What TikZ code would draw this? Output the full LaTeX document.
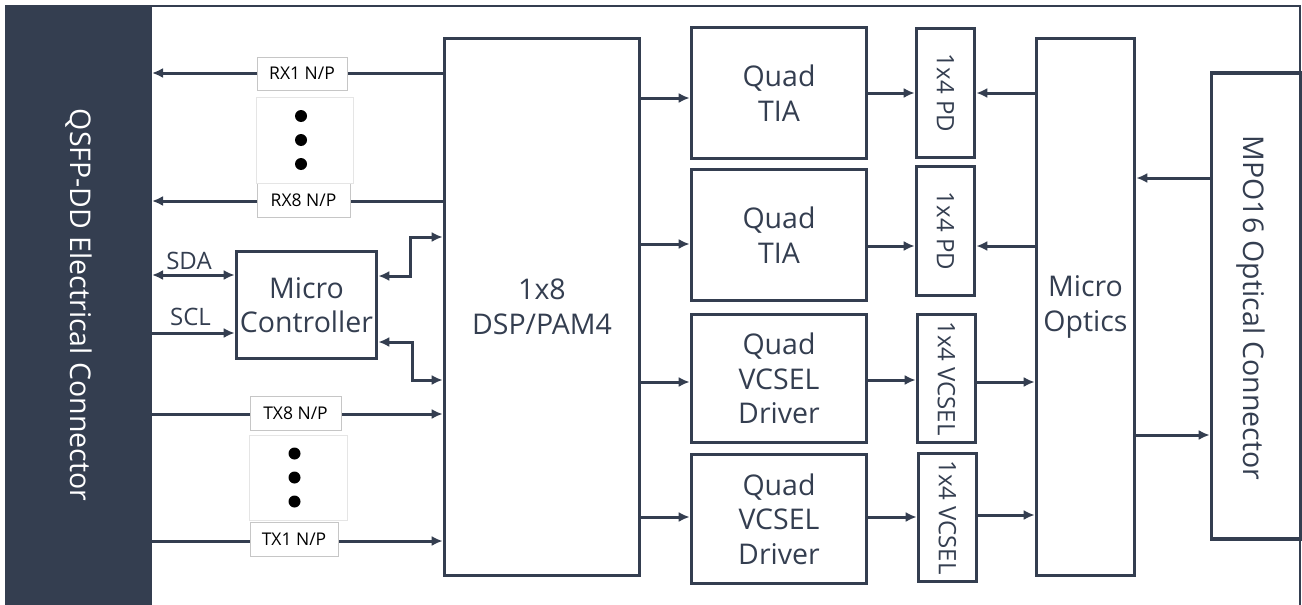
\documentclass[tikz,border=0pt]{standalone}
\usepackage{fontspec}
\setmainfont{Open Sans}
\usetikzlibrary{arrows.meta}
\definecolor{slate}{RGB}{52,62,80}
\begin{document}
\begin{tikzpicture}
[x=1pt,y=-1pt,
  boxLine/.style={draw=slate,line width=3.6pt,text=slate,align=center,inner sep=0pt,%
    font=\fontsize{28.5}{34.5}\selectfont},
  sideText/.style={rotate=-90,inner sep=0pt,font=\fontsize{28.5}{34.5}\selectfont},
  smallText/.style={rotate=-90,inner sep=0pt,text=slate,font=\fontsize{24}{28}\selectfont},
  arrowLine/.style={-{Latex[length=11pt,width=10pt]},line width=3pt,draw=slate},
  bothLine/.style={{Latex[length=11pt,width=10pt]}-{Latex[length=11pt,width=10pt]},line width=3pt,draw=slate},
  tagBox/.style={draw=gray!45,line width=0.8pt,fill=white,inner sep=0pt,font=\fontsize{17.5}{20}\selectfont},
  dotBox/.style={draw=gray!20,line width=0.8pt,fill=white,inner sep=0pt},
  busText/.style={text=slate,inner sep=0pt,font=\fontsize{24}{28}\selectfont}]
\useasboundingbox (0,0) rectangle (1302,605);
%% connector bar and frame
\node[fill=slate,inner sep=0pt,outer sep=0pt,minimum width=147pt,minimum height=600pt,anchor=north west] (qsfp) at (5,5) {};
\node[sideText,text=white] (qsfpText) at (qsfp.center) {QSFP-DD Electrical Connector};
\draw[slate,line width=2.5pt] (qsfp.north east |- 0,6) -- (1300,6) -- (1300,605);
%% main blocks
\foreach \name/\x/\y/\w/\h/\txt in {dsp/542/307/195/537/{1x8\\DSP/PAM4},
  mc/306.5/305/140/107/{Micro\\Controller},
  tiaA/779/93/175/131/{Quad\\TIA}, tiaB/779/235/175/131/{Quad\\TIA},
  drvA/779/378.5/175/128/{Quad\\VCSEL\\Driver}, drvB/779/519/175/129/{Quad\\VCSEL\\Driver},
  mo/1085.5/307/98/537/{Micro\\Optics}}
{
  \node[boxLine,minimum width=\w pt,minimum height=\h pt] (\name) at (\x,\y) {\txt};
}
%% detector and laser arrays
\foreach \name/\x/\y/\h/\txt in {pdA/945.5/93/129/{1x4 PD}, pdB/945.5/231/129/{1x4 PD},
  vcA/946.5/378.5/128/{1x4 VCSEL}, vcB/947.5/517.5/128/{1x4 VCSEL}}
{
  \node[boxLine,minimum width=58pt,minimum height=\h pt] (\name) at (\x,\y) {};
  \node[smallText] (\name Text) at (\name.center) {\txt};
}
\node[boxLine,minimum width=90pt,minimum height=466pt] (mpo) at (1256.5,306) {};
\node[sideText,text=slate] (mpoText) at (1251,308) {MPO16 Optical Connector};
%% electrical lanes
\foreach \y in {73,201}
  \draw[arrowLine] (dsp.west |- 0,\y) -- (qsfp.east |- 0,\y);
\foreach \y in {414,541}
  \draw[arrowLine] (qsfp.east |- 0,\y) -- (dsp.west |- 0,\y);
\draw[bothLine] (qsfp.east |- 0,275) -- (mc.west |- 0,275);
\draw[arrowLine] (qsfp.east |- 0,333) -- (mc.west |- 0,333);
\draw[bothLine] (mc.east |- 0,276) -| (410,237) -- (dsp.west |- 0,237);
\draw[bothLine] (mc.east |- 0,342) -| (412,380) -- (dsp.west |- 0,380);
\node[busText] (sda) at (189,261) {SDA};
\node[busText] (scl) at (190.5,317) {SCL};
%% forward paths
\foreach \a/\b/\y in {dsp/tiaA/98, dsp/tiaB/244, dsp/drvA/382, dsp/drvB/517,
  tiaA/pdA/93, tiaB/pdB/246, drvA/vcA/380, drvB/vcB/517, vcA/mo/382, vcB/mo/515, mo/mpo/435}
  \draw[arrowLine] (\a.east |- 0,\y) -- (\b.west |- 0,\y);
%% return paths
\foreach \a/\b/\y in {mo/pdA/93, mo/pdB/246, mpo/mo/178}
  \draw[arrowLine] (\a.west |- 0,\y) -- (\b.east |- 0,\y);
%% lane tags
\foreach \name/\x/\y/\w/\h/\txt in {rxA/302/73.5/90/33/{RX1 N/P}, rxB/303.5/200/93/34/{RX8 N/P},
  txB/295.5/413/91/34/{TX8 N/P}, txA/294/539/88/34/{TX1 N/P}}
{
  \node[tagBox,minimum width=\w pt,minimum height=\h pt] (\name) at (\x,\y) {\txt};
}
\node[dotBox,minimum width=97pt,minimum height=86pt] (rxDots) at (304.5,140) {};
\node[dotBox,minimum width=98pt,minimum height=85pt] (txDots) at (298,477.5) {};
\foreach \d in {-24,0,24}
{
  \fill (rxDots.center) ++(-3.5,\d) circle (6pt);
  \fill (txDots.center) ++(-3.5,\d) circle (6pt);
}
\end{tikzpicture}
\end{document}
